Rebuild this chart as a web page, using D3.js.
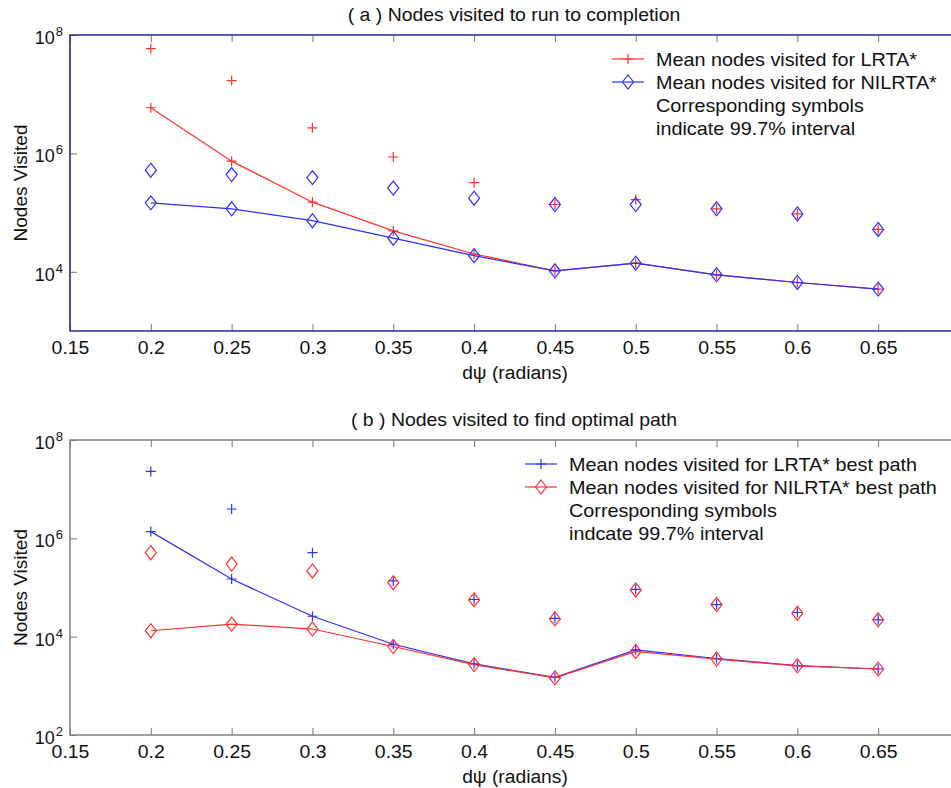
<!DOCTYPE html>
<html>
<head>
<meta charset="utf-8">
<script src="https://cdn.jsdelivr.net/npm/d3@7"></script>
<style>
  body { margin: 0; background: #fff; }
  svg { display: block; }
  text { font-family: "Liberation Sans", Arial, sans-serif; fill: #111; }
</style>
</head>
<body>
<svg id="chart" width="951" height="788"></svg>
<script>
// x values (dpsi, radians)
var dpsi = [0.2, 0.25, 0.3, 0.35, 0.4, 0.45, 0.5, 0.55, 0.6, 0.65];
var xTicks = [0.15, 0.2, 0.25, 0.3, 0.35, 0.4, 0.45, 0.5, 0.55, 0.6, 0.65];

// (a) nodes visited to run to completion
var aLrtaMean  = [5.9e6, 7.4e5, 1.5e5, 4.9e4, 2.0e4, 1.04e4, 1.4e4, 8.9e3, 6.6e3, 5.1e3];
var aLrtaUpper = [5.9e7, 1.7e7, 2.7e6, 8.7e5, 3.2e5, 1.37e5, 1.66e5, 1.16e5, 9.5e4, 5.2e4];
var aNilMean   = [1.46e5, 1.16e5, 7.3e4, 3.7e4, 1.87e4, 1.04e4, 1.4e4, 8.9e3, 6.6e3, 5.1e3];
var aNilUpper  = [5.2e5, 4.4e5, 3.9e5, 2.6e5, 1.75e5, 1.37e5, 1.37e5, 1.16e5, 9.5e4, 5.2e4];
var aYTicks = [1e4, 1e6, 1e8];
var aLegend = ["Mean nodes visited for LRTA*", "Mean nodes visited for NILRTA*",
               "Corresponding symbols", "indicate 99.7% interval"];

// (b) nodes visited to find optimal path
var bLrtaMean  = [1.37e6, 1.49e5, 2.6e4, 7.0e3, 2.8e3, 1.49e3, 5.4e3, 3.6e3, 2.57e3, 2.2e3];
var bLrtaUpper = [2.3e7, 3.95e6, 5.1e5, 1.36e5, 5.7e4, 2.36e4, 9.2e4, 4.5e4, 3.1e4, 2.2e4];
var bNilMean   = [1.32e4, 1.8e4, 1.43e4, 6.3e3, 2.7e3, 1.45e3, 5.0e3, 3.5e3, 2.55e3, 2.2e3];
var bNilUpper  = [5.1e5, 3.0e5, 2.17e5, 1.25e5, 5.6e4, 2.3e4, 8.9e4, 4.5e4, 3.0e4, 2.2e4];
var bYTicks = [1e2, 1e4, 1e6, 1e8];
var bLegend = ["Mean nodes visited for LRTA* best path", "Mean nodes visited for NILRTA* best path",
               "Corresponding symbols", "indcate 99.7% interval"];

var RED = "#ff3030";
var BLUE = "#3030ff";

var svg = d3.select("#chart");
var left = 70, right = 959;

function zip(xs, ys) {
  return xs.map(function(x, i) { return [x, ys[i]]; });
}

// text slightly widened, the source figure is stretched horizontally
function label(g, x, y, txt, size, anchor, sx) {
  return g.append("text")
    .attr("transform", "translate(" + x + "," + y + ") scale(" + sx + ",1)")
    .attr("text-anchor", anchor).attr("font-size", size).text(txt);
}

function plus(g, pts, x, y, color) {
  g.selectAll(null).data(pts).enter().append("path")
    .attr("d", function(d) {
      var px = x(d[0]), py = y(d[1]);
      return "M" + (px - 5) + "," + py + "H" + (px + 5) + "M" + px + "," + (py - 5) + "V" + (py + 5);
    })
    .attr("stroke", color).attr("stroke-width", 1.2).attr("fill", "none");
}

function diamond(g, pts, x, y, color) {
  g.selectAll(null).data(pts).enter().append("path")
    .attr("d", function(d) {
      var px = x(d[0]), py = y(d[1]);
      return "M" + px + "," + (py - 7) + "L" + (px + 5.5) + "," + py + "L" + px + "," + (py + 7) + "L" + (px - 5.5) + "," + py + "Z";
    })
    .attr("stroke", color).attr("stroke-width", 1.2).attr("fill", "none");
}

function panel(p) {
  var x = d3.scaleLinear().domain([0.15, 0.7]).range([left, right]);
  var y = d3.scaleLog().domain(p.yDomain).range([p.bottom, p.top]);
  var g = svg.append("g");

  // tick marks (inward) on all sides
  g.append("g").attr("transform", "translate(0," + p.bottom + ")")
    .call(d3.axisBottom(x).tickValues(xTicks).tickSize(-7).tickPadding(10).tickFormat(d3.format("")))
    .call(function(a) {
      a.select(".domain").remove();
      a.selectAll("line").attr("stroke", "#777");
      a.selectAll("text").attr("font-size", 18).attr("transform", "scale(1.08,1)")
        .attr("font-family", "Liberation Sans, Arial, sans-serif").attr("fill", "#111");
    });
  g.append("g").attr("transform", "translate(0," + p.top + ")")
    .call(d3.axisTop(x).tickValues(xTicks).tickSize(-7).tickFormat(""))
    .call(function(a) {
      a.select(".domain").remove();
      a.selectAll("line").attr("stroke", "#777");
    });
  g.append("g").attr("transform", "translate(" + left + ",0)")
    .call(d3.axisLeft(y).tickValues(p.yTicks).tickSize(-7).tickFormat(""))
    .call(function(a) {
      a.select(".domain").remove();
      a.selectAll("line").attr("stroke", "#777");
    });
  g.append("g").attr("transform", "translate(" + right + ",0)")
    .call(d3.axisRight(y).tickValues(p.yTicks).tickSize(-7).tickFormat(""))
    .call(function(a) {
      a.select(".domain").remove();
      a.selectAll("line").attr("stroke", "#777");
    });

  // power-of-ten labels
  p.yTicks.forEach(function(v) {
    var t = g.append("text")
      .attr("x", left - 7).attr("y", y(v) + 9)
      .attr("text-anchor", "end").attr("font-size", 18);
    t.append("tspan").text("10");
    t.append("tspan").attr("font-size", 13).attr("dx", 1).attr("dy", -8).text(Math.round(Math.log10(v)));
  });

  // frame
  g.append("path")
    .attr("d", "M" + right + "," + p.top + "H" + left + "V" + p.bottom + "H" + right)
    .attr("fill", "none").attr("stroke", p.frame).attr("stroke-width", 1.6);

  // series
  var line = d3.line().x(function(d) { return x(d[0]); }).y(function(d) { return y(d[1]); });
  p.series.forEach(function(s) {
    var pts = zip(dpsi, s.mean);
    g.append("path").datum(pts).attr("d", line)
      .attr("fill", "none").attr("stroke", s.color).attr("stroke-width", 1.2);
    s.marker(g, pts, x, y, s.color);
    s.marker(g, zip(dpsi, s.upper), x, y, s.color);
  });

  // titles
  label(g, 514, p.top - 14, p.title, 18, "middle", 1.08);
  label(g, 515, p.bottom + 48, "d\u03c8 (radians)", 18, "middle", 1.07);
  g.append("text")
    .attr("transform", "translate(27," + ((p.top + p.bottom) / 2) + ") rotate(-90)")
    .attr("text-anchor", "middle").attr("font-size", 19).text("Nodes Visited");

  // legend
  var lg = g.append("g");
  p.legend.forEach(function(text, i) {
    var ly = p.legY + i * 23;
    if (i < 2) {
      var s = p.series[i];
      lg.append("line").attr("x1", p.legX).attr("x2", p.legX + 32)
        .attr("y1", ly).attr("y2", ly).attr("stroke", s.color).attr("stroke-width", 1.2);
      var lx = d3.scaleLinear().domain([0, 1]).range([p.legX + 16, p.legX + 16]);
      var ly2 = d3.scaleLinear().domain([0, 1]).range([ly, ly]);
      s.marker(lg, [[0, 0]], lx, ly2, s.color);
    }
    label(lg, p.legX + 44, ly + 7, text, 18, "start", 1.1);
  });
}

panel({
  top: 35, bottom: 331, yDomain: [1e3, 1e8], yTicks: aYTicks, frame: "#25289a",
  title: "( a ) Nodes visited to run to completion",
  legend: aLegend, legX: 612, legY: 59,
  series: [
    { mean: aLrtaMean, upper: aLrtaUpper, color: RED, marker: plus },
    { mean: aNilMean, upper: aNilUpper, color: BLUE, marker: diamond }
  ]
});

panel({
  top: 440, bottom: 735, yDomain: [1e2, 1e8], yTicks: bYTicks, frame: "#808080",
  title: "( b ) Nodes visited to find optimal path",
  legend: bLegend, legX: 525, legY: 464,
  series: [
    { mean: bLrtaMean, upper: bLrtaUpper, color: BLUE, marker: plus },
    { mean: bNilMean, upper: bNilUpper, color: RED, marker: diamond }
  ]
});
</script>
</body>
</html>
